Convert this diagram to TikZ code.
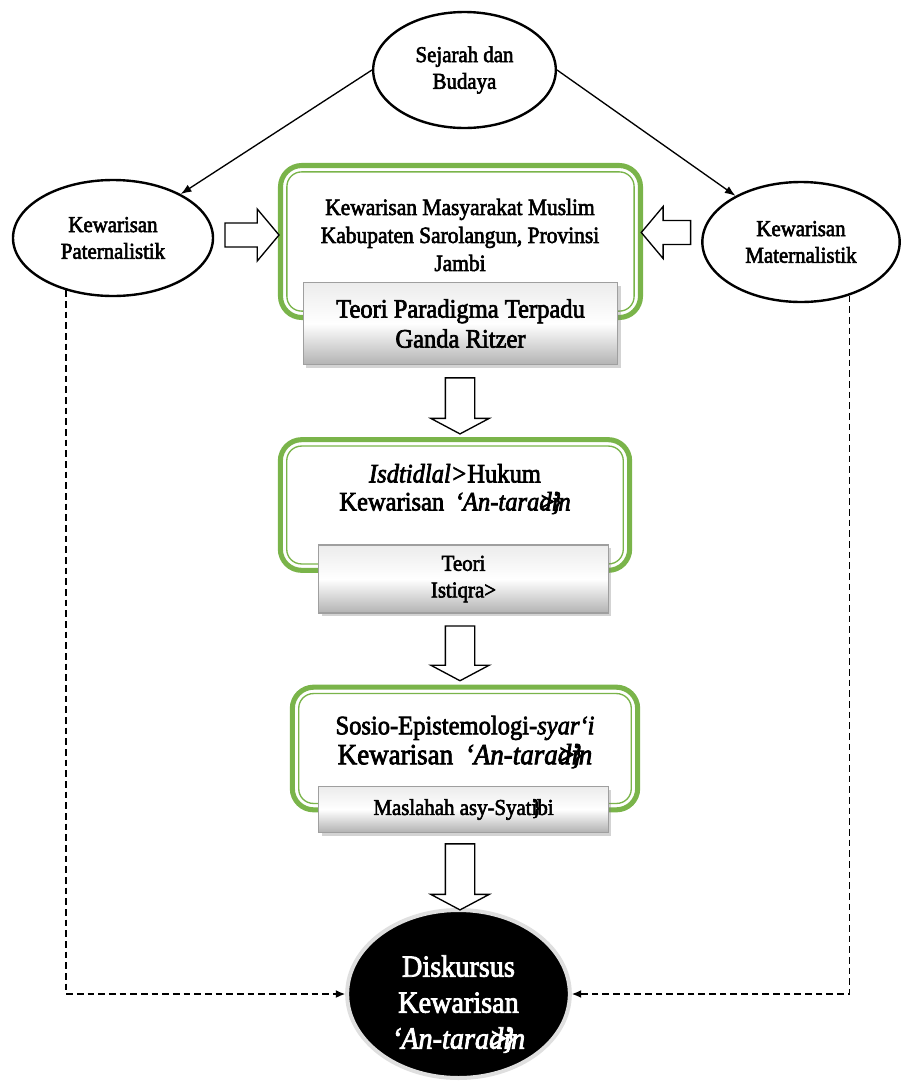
\documentclass[tikz,border=0pt]{standalone}
\usepackage{fontspec}
\setmainfont{Liberation Serif}[FakeStretch=0.92, FakeBold=2.6]
\usetikzlibrary{positioning, shapes.geometric, shapes.arrows, shadows, arrows.meta}
\definecolor{boxgreen}{RGB}{122,180,74}
\tikzset{
  ell/.style={ellipse, draw=black, line width=1.8pt, fill=white, align=center, inner sep=0pt, font=\fontsize{17}{20}\selectfont},
  greenbox/.style={draw=boxgreen, line width=3.8pt, rounded corners=16pt, fill=white, outer sep=0pt},
  greeninner/.style={draw=boxgreen, line width=1pt, rounded corners=11pt},
  boxtext/.style={align=center, font=\fontsize{17.5}{21}\selectfont},
  theory/.style={draw=gray!75, line width=0.8pt, top color=gray!15, bottom color=gray!60, middle color=white, align=center,
    drop shadow={opacity=0.35, shadow xshift=2pt, shadow yshift=-2.5pt}},
  blockdown/.style={single arrow, draw=black, fill=white, line width=1pt, inner xsep=0pt, inner ysep=10.5pt,
    single arrow head extend=10.9pt, single arrow tip angle=124, single arrow head indent=0pt, rotate=-90},
  blockside/.style={single arrow, draw=black, fill=white, line width=1pt, inner xsep=0pt, inner ysep=8.5pt,
    single arrow head extend=10.5pt, single arrow tip angle=100, single arrow head indent=0pt},
  thinlink/.style={draw=black, line width=1pt, -{Latex[length=8pt, width=6pt]}},
  dashlink/.style={draw=black, line width=1.1pt, dash pattern=on 5pt off 3pt, -{Latex[length=7pt, width=6pt]}}
}

\begin{document}
\begin{tikzpicture}[x=0.75pt, y=-0.75pt]
\useasboundingbox (0,0) rectangle (901,1086);

% top and side ellipses
\node[ell, minimum width=137pt, minimum height=87pt] (sej) at (464.5,70) {Sejarah dan\\Budaya};
\node[ell, minimum width=150pt, minimum height=87pt] (pat) at (113,238) {Kewarisan\\Paternalistik};
\node[ell, minimum width=148pt, minimum height=90pt] (mat) at (801,242) {Kewarisan\\Maternalistik};

% first stage
\node[greenbox, minimum width=270pt, minimum height=114pt] (ctx) at (460.5,241.5) {};
\draw[greeninner] ([shift={(4.8pt,-4.8pt)}]ctx.north west) rectangle ([shift={(-4.8pt,4.8pt)}]ctx.south east);
\node[boxtext] (ctxtext) at (460,235) {Kewarisan Masyarakat Muslim\\Kabupaten Sarolangun, Provinsi\\Jambi};
\node[theory, minimum width=236pt, minimum height=62pt, font=\fontsize{20}{22.5}\selectfont] (ritzer) at (460.5,323.5) {Teori Paradigma Terpadu\\Ganda Ritzer};

% second stage
\node[greenbox, minimum width=262pt, minimum height=98pt] (ist) at (455,505) {};
\draw[greeninner] ([shift={(4.8pt,-4.8pt)}]ist.north west) rectangle ([shift={(-4.8pt,4.8pt)}]ist.south east);
\node[boxtext, font=\fontsize{20}{21}\selectfont] (isttext) at (455,489) {\textit{Isdtidlal>}Hukum\\Kewarisan \,\textit{‘An-tara\rlap{>}d\rlap{\}}in}};
\node[theory, minimum width=217pt, minimum height=51pt, font=\fontsize{17}{20}\selectfont] (istiqra) at (463.5,579) {Teori\\Istiqra>};

% third stage
\node[greenbox, minimum width=259pt, minimum height=92pt] (sos) at (465,748.5) {};
\draw[greeninner] ([shift={(4.8pt,-4.8pt)}]sos.north west) rectangle ([shift={(-4.8pt,4.8pt)}]sos.south east);
\node[boxtext, font=\fontsize{20}{22.5}\selectfont] (sostext) at (465,742) {Sosio-Epistemologi-\textit{syar‘i}\\{\fontsize{22}{22.5}\selectfont Kewarisan \,\textit{‘An-tara\rlap{>}d\rlap{\}}in}}};
\node[theory, minimum width=217pt, minimum height=34pt, font=\fontsize{17}{20}\selectfont] (syatibi) at (463.5,809.5) {Maslahah asy-Syat\rlap{\}}ibi};

% result
\node[ellipse, fill=black, draw=gray!25, line width=3pt, minimum width=167pt, minimum height=126pt, inner sep=0pt,
  text=white, align=center, font=\fontsize{23}{27}\selectfont] (disk) at (458.5,994) {\rule{0pt}{31pt}Diskursus\\Kewarisan\\\textit{‘An-tara\rlap{>}d\rlap{\}}in}};

% block arrows
\node[blockside, minimum height=40.5pt] (patin) at (247,235) {};
\node[blockside, minimum height=37pt, rotate=180] (matin) at (671,232.5) {};
\node[blockdown, minimum height=42pt] (down1) at (460,402) {};
\node[blockdown, minimum height=41pt] (down2) at (460,649.5) {};
\node[blockdown, minimum height=49.5pt] (down3) at (460,873) {};

% connectors
\draw[thinlink] (sej.west) -- (pat);
\draw[thinlink] (sej.east) -- (mat);
\draw[dashlink] (pat.228) |- (disk);
\draw[dashlink] (mat.312) |- (disk);
\end{tikzpicture}
\end{document}
